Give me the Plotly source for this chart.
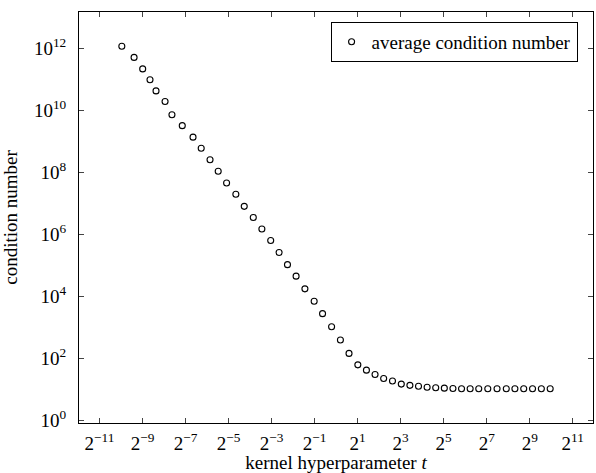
import plotly.graph_objects as go
import math

# log2 of kernel hyperparameter t
log2_t = [-9.96, -9.39, -8.99, -8.65, -8.37, -7.95, -7.63, -7.15, -6.65, -6.27,
          -5.86, -5.48, -5.09, -4.66, -4.27, -3.85, -3.45, -3.04, -2.65, -2.26,
          -1.86, -1.45, -1.02, -0.63, -0.21, 0.20, 0.60, 1.01, 1.41, 1.81,
          2.21, 2.62, 3.03, 3.43, 3.83, 4.23, 4.63, 5.03, 5.43, 5.83,
          6.23, 6.63, 7.05, 7.48, 7.91, 8.31, 8.72, 9.13, 9.54, 9.95]
# log10 of the average condition number
log10_cond = [12.06, 11.70, 11.33, 10.98, 10.62, 10.28, 9.85, 9.50, 9.13, 8.77,
              8.40, 8.03, 7.65, 7.29, 6.90, 6.54, 6.17, 5.80, 5.41, 5.02,
              4.65, 4.24, 3.84, 3.44, 3.02, 2.59, 2.16, 1.79, 1.62, 1.48,
              1.35, 1.27, 1.17, 1.13, 1.10, 1.07, 1.05, 1.04, 1.03, 1.02,
              1.02, 1.02, 1.02, 1.02, 1.02, 1.02, 1.02, 1.02, 1.02, 1.02]

x_tick_exps = [-11, -9, -7, -5, -3, -1, 1, 3, 5, 7, 9, 11]
y_tick_exps = [0, 2, 4, 6, 8, 10, 12]

t_vals = [2.0 ** e for e in log2_t]
cond_vals = [10.0 ** e for e in log10_cond]

FONT = "Liberation Serif"
FS = 19

def sup(base, e):
    s = str(e).replace("-", "\u2212")
    return f"{base}<sup>{s}</sup>"

fig = go.Figure()
fig.add_trace(go.Scatter(
    x=t_vals, y=cond_vals, mode="markers",
    name="average condition number",
    marker=dict(symbol="circle-open", size=6, color="black", line=dict(width=1.1)),
))

L2 = math.log10(2)
fig.update_layout(
    width=596, height=473,
    margin=dict(l=79, r=3, t=12, b=50, autoexpand=False),
    paper_bgcolor="white", plot_bgcolor="white",
    font=dict(family=FONT, size=FS, color="black"),
    showlegend=True,
    legend=dict(
        x=0.970, y=0.976, xanchor="right", yanchor="top",
        bgcolor="white", bordercolor="black", borderwidth=1,
        font=dict(family=FONT, size=FS), itemwidth=30,
        tracegroupgap=0,
    ),
    xaxis=dict(
        type="log", automargin=False,
        range=[-11.95 * L2, 11.94 * L2],
        tickvals=[2.0 ** e for e in x_tick_exps],
        ticktext=[sup("2", e) for e in x_tick_exps],
        ticks="inside", ticklen=5, tickcolor="#444", tickwidth=1,
        showline=True, linecolor="black", linewidth=1, mirror="ticks",
        showgrid=False, zeroline=False,
        tickfont=dict(family=FONT, size=FS),
        ticklabelstandoff=3,
        title=dict(text="kernel hyperparameter <i>t</i>", font=dict(family=FONT, size=FS), standoff=2),
    ),
    yaxis=dict(
        type="log", automargin=False,
        range=[-0.084, 13.164],
        tickvals=[10.0 ** e for e in y_tick_exps],
        ticktext=[sup("10", e) for e in y_tick_exps],
        ticks="inside", ticklen=5, tickcolor="#444", tickwidth=1,
        showline=True, linecolor="black", linewidth=1, mirror="ticks",
        showgrid=False, zeroline=False,
        tickfont=dict(family=FONT, size=FS),
        ticklabelstandoff=8,
        title=dict(text="condition number", font=dict(family=FONT, size=FS), standoff=12),
    ),
)

fig.write_html("out.html", config={"displayModeBar": False},
               post_script="document.body.style.margin='0';")
